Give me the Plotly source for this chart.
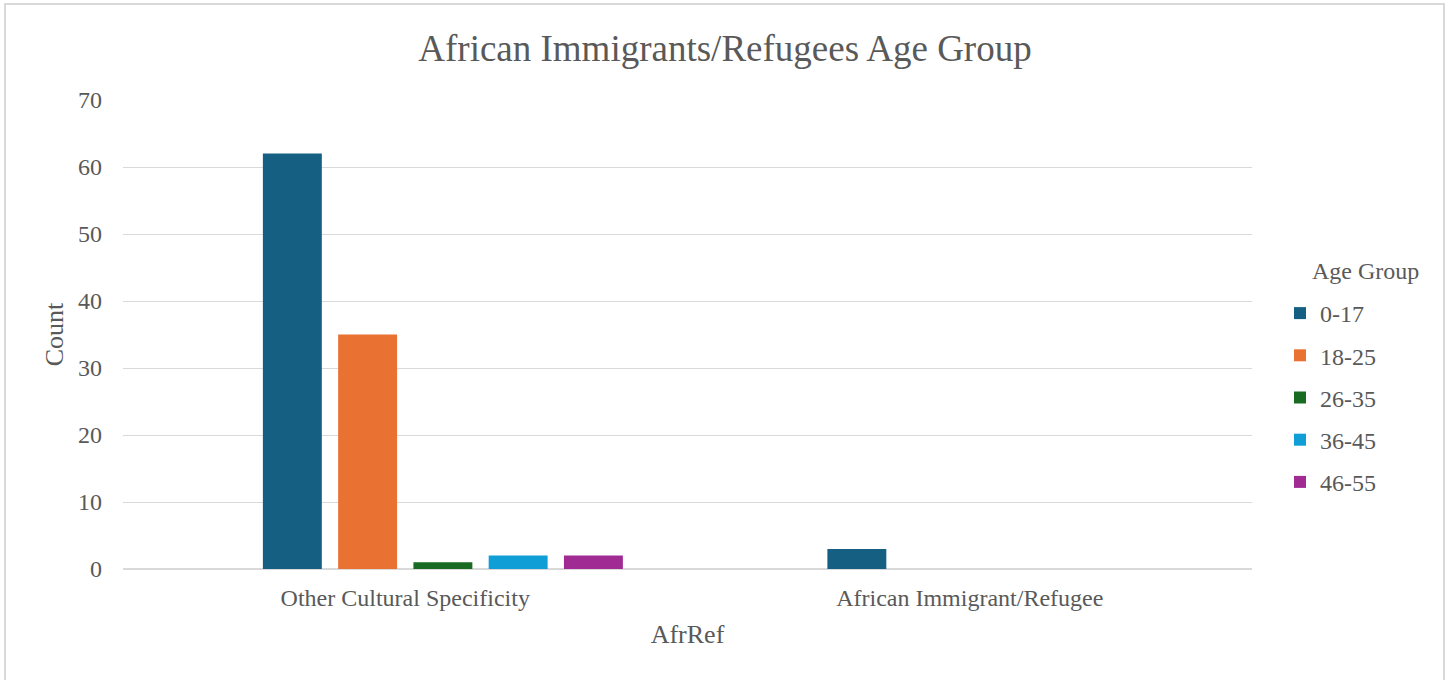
import plotly.graph_objects as go

categories = ["Other Cultural Specificity", "African Immigrant/Refugee"]
series_names = ["0-17", "18-25", "26-35", "36-45", "46-55"]
series_values = [
    [62, 3],
    [35, 0],
    [1, 0],
    [2, 0],
    [2, 0],
]
colors = ["#156082", "#E97132", "#196B24", "#0F9ED5", "#A02B93"]
y_ticks = [0, 10, 20, 30, 40, 50, 60, 70]
legend_title = "Age Group"

FONT = "Liberation Serif"
TXT = "#595959"

# plot area in pixels: x 123..1252, y 100..569
PX0, PX1, PY0, PY1 = 123, 1252, 100, 569
def px(x):
    return (x - PX0) / (PX1 - PX0)
def py(y):
    return (PY1 - y) / (PY1 - PY0)

fig = go.Figure()
# empty leading slot (blank series in the source chart)
fig.add_trace(go.Bar(x=categories, y=[None, None], name="", showlegend=False,
                     marker_color="rgba(0,0,0,0)", hoverinfo="skip"))
for i, (name, vals) in enumerate(zip(series_names, series_values)):
    fig.add_trace(go.Bar(x=categories, y=vals, name=name, marker_color=colors[i],
                         marker_line_width=0, legendgroup=name))

fig.update_layout(
    width=1450, height=680,
    margin=dict(l=PX0, r=1450 - PX1, t=PY0, b=680 - PY1),
    paper_bgcolor="white", plot_bgcolor="white",
    barmode="group", bargap=0.2, bargroupgap=0.217,
    font=dict(family=FONT, color=TXT, size=24),
    title=dict(text="African Immigrants/Refugees Age Group", x=0.5, xref="container",
               xanchor="center", y=1 - 48 / 680, yanchor="middle",
               font=dict(family=FONT, size=37, color=TXT)),
    xaxis=dict(showline=False, ticks="", tickfont=dict(size=24, family=FONT, color=TXT),
               ticklabelstandoff=12,
               title=dict(text="AfrRef", font=dict(size=26, family=FONT, color=TXT), standoff=14)),
    yaxis=dict(range=[0, 70], tickvals=y_ticks, showgrid=True, gridcolor="#d9d9d9", gridwidth=1.3,
               zeroline=True, zerolinecolor="#d9d9d9", zerolinewidth=1.5, showline=False,
               tickfont=dict(size=24, family=FONT, color=TXT), ticklabelstandoff=20,
               title=dict(text="Count", font=dict(size=26, family=FONT, color=TXT), standoff=6)),
    legend=dict(x=px(1280), y=py(291), xanchor="left", yanchor="top",
                font=dict(size=24, family=FONT, color=TXT),
                traceorder="grouped", tracegroupgap=8, bgcolor="rgba(0,0,0,0)"),
    annotations=[dict(text=legend_title, xref="paper", yref="paper", x=px(1310), y=py(271),
                      xanchor="left", yanchor="middle", showarrow=False,
                      font=dict(size=24, family=FONT, color=TXT))],
    shapes=[dict(type="rect", xref="paper", yref="paper",
                 x0=px(5), x1=px(1444), y0=py(700), y1=py(4),
                 line=dict(color="#d9d9d9", width=2), fillcolor="rgba(0,0,0,0)", layer="below")],
)

fig.write_html("out.html")
